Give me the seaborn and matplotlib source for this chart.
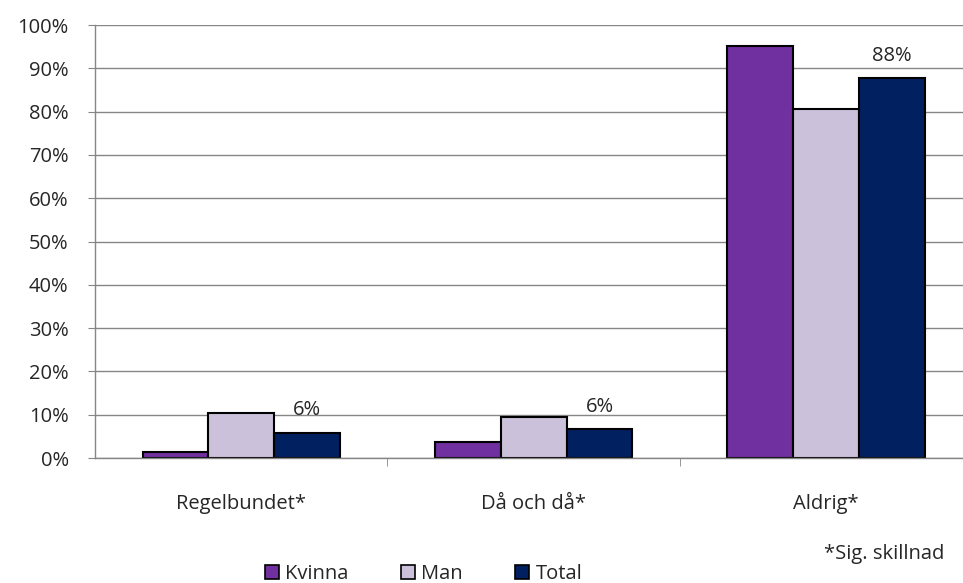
import pandas as pd
import matplotlib.pyplot as plt
import seaborn as sns
from matplotlib.patches import Patch
from matplotlib.ticker import PercentFormatter, FixedLocator

# Data (share of respondents)
categories = ['Regelbundet*', 'Då och då*', 'Aldrig*']
groups = ['Kvinna', 'Man', 'Total']
kvinna = [1.5, 3.8, 95.2]
man = [10.4, 9.4, 80.7]
total = [5.8, 6.6, 87.7]
total_labels = ['6%', '6%', '88%']
colors = ['#7030A0', '#CCC1DA', '#002060']

df = pd.DataFrame({
    'kategori': categories * 3,
    'grupp': [g for g in groups for _ in categories],
    'andel': kvinna + man + total,
})

sns.set_style('white')
plt.rcParams['font.family'] = ['Open Sans', 'DejaVu Sans']
fs = 14.5

fig = plt.figure(figsize=(9.63, 5.83), dpi=100)
ax = fig.add_axes([0.0987, 0.2144, 0.911, 0.7427])

sns.barplot(data=df, x='kategori', y='andel', hue='grupp', order=categories,
            hue_order=groups, palette=colors, width=0.675, edgecolor='black',
            linewidth=1.5, saturation=1, legend=False, ax=ax)

# Labels above the Total bars
ax.bar_label(ax.containers[2], labels=total_labels, padding=9, fontsize=fs)

ax.set_ylim(0, 100)
ax.set_xlim(-0.5, 2.5)
ax.yaxis.set_major_locator(FixedLocator(range(0, 101, 10)))
ax.yaxis.set_major_formatter(PercentFormatter(100, decimals=0))
ax.grid(axis='y', color='#868686', linewidth=1)
ax.set_axisbelow(True)

ax.set_xlabel('')
ax.set_ylabel('')
for side in ['top', 'right']:
    ax.spines[side].set_visible(False)
for side in ['left', 'bottom']:
    ax.spines[side].set_color('#868686')
    ax.spines[side].set_linewidth(1)

ax.xaxis.set_minor_locator(FixedLocator([0.5, 1.5]))
ax.tick_params(axis='x', which='major', length=0, pad=26, labelsize=fs)
ax.tick_params(axis='x', which='minor', length=6, color='#868686', direction='out', bottom=True)
ax.tick_params(axis='y', length=5, color='#868686', direction='out', left=True, pad=14,
               labelsize=fs)

handles = [Patch(facecolor=c, edgecolor='black', linewidth=1.2, label=g)
           for c, g in zip(colors, groups)]
fig.legend(handles=handles, loc='lower center', bbox_to_anchor=(0.44, -0.033), ncol=3,
           frameon=False, fontsize=fs, handlelength=0.7, handleheight=0.7,
           handletextpad=0.3, columnspacing=2.6)

fig.text(0.981, 0.05, '*Sig. skillnad', ha='right', va='center', fontsize=fs)

plt.savefig('out.png', dpi=100)
